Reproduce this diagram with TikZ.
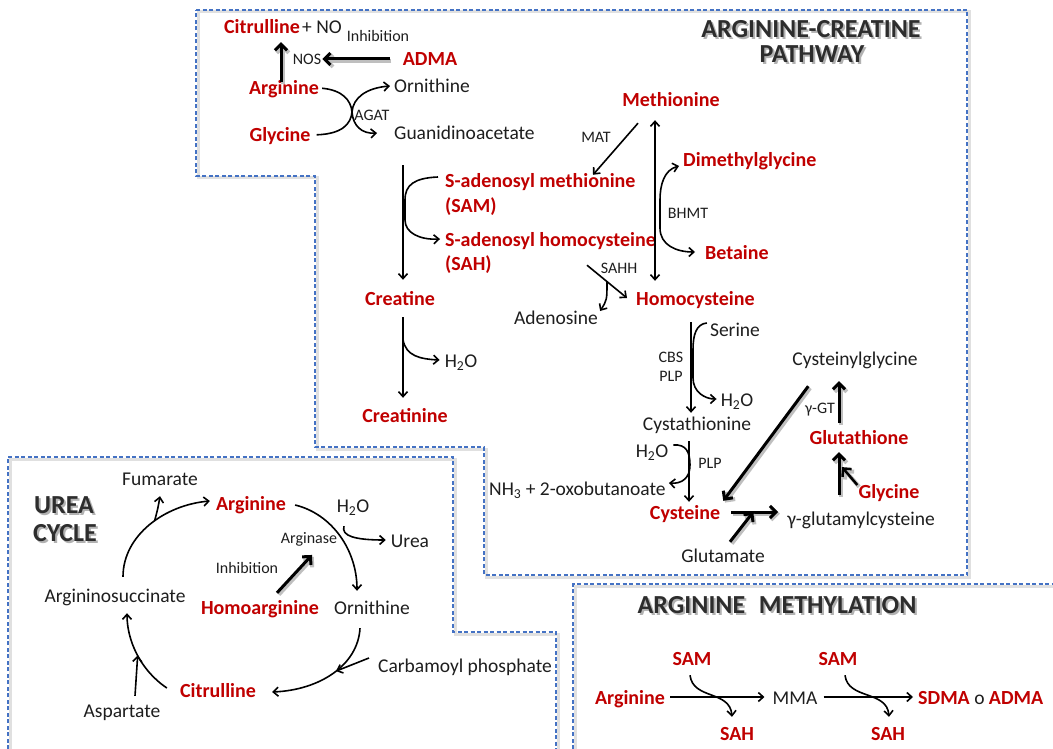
\documentclass[tikz,border=0pt]{standalone}
\usepackage{fontspec}
\setmainfont{Carlito}
\usetikzlibrary{arrows.meta}
\definecolor{dred}{RGB}{192,0,0}
\definecolor{txt}{RGB}{30,30,30}
\definecolor{bxblue}{RGB}{68,114,196}
\definecolor{hdgray}{RGB}{45,45,45}
\tikzset{
  lbl/.style={font=\fontsize{19.5}{22}\selectfont, text=txt, inner sep=0pt, text height=14pt, text depth=0pt},
  rlbl/.style={font=\bfseries\fontsize{20}{23}\selectfont, text=dred, inner sep=0pt, text height=14pt, text depth=0pt},
  sml/.style={font=\fontsize{16}{18}\selectfont, text=txt, inner sep=0pt, text height=11.5pt, text depth=0pt},
  hd/.style={font=\bfseries\fontsize{26}{30}\selectfont, text=hdgray, inner sep=0pt, text height=16.5pt, text depth=0pt},
  hdsh/.style={font=\bfseries\fontsize{26}{30}\selectfont, text=black!30, inner sep=0pt, text height=16.5pt, text depth=0pt},
  arr/.style={-{Straight Barb[length=5pt,width=9pt]}, line width=1.6pt, draw=black},
  dbl/.style={{Straight Barb[length=5pt,width=9pt]}-{Straight Barb[length=5pt,width=9pt]}, line width=1.6pt, draw=black},
  thk/.style={-{Straight Barb[length=6pt,width=12pt]}, line width=3pt, draw=black,
    preaction={draw=black!25, line width=4pt, transform canvas={shift={(1.8pt,-1.8pt)}}}},
  bx/.style={draw=bxblue, line width=1.2pt, dash pattern=on 4pt off 2.5pt},
  bxsh/.style={draw=black!12, line width=3pt, transform canvas={shift={(2pt,-2pt)}}},
}
\begin{document}
\begin{tikzpicture}[x=1pt,y=-1pt]
\useasboundingbox[fill=white] (0,0) rectangle (1053,749);

% ---------- boxes ----------
\draw[bxsh] (196,10) -- (967,10) -- (967,575) -- (484,575) -- (484,447) -- (315,447) -- (315,176) -- (196,176) -- cycle;
\draw[bx] (196,10) -- (967,10) -- (967,575) -- (484,575) -- (484,447) -- (315,447) -- (315,176) -- (196,176) -- cycle;
\draw[bxsh] (8,749) -- (8,457) -- (453,457) -- (453,632) -- (556,632) -- (556,749);
\draw[bx] (8,749) -- (8,457) -- (453,457) -- (453,632) -- (556,632) -- (556,749);
\draw[bxsh] (573,749) -- (573,584) -- (1053,584);
\draw[bx] (573,749) -- (573,584) -- (1053,584);

% ---------- headings ----------
\node[hdsh] at (813,31) {ARGININE-CREATINE};
\node[hd] (hdA) at (811,29) {ARGININE-CREATINE};
\node[hdsh] at (814,56) {PATHWAY};
\node[hd] (hdB) at (812,54) {PATHWAY};
\node[hdsh] at (66,507) {UREA};
\node[hd] (hdC) at (64,505) {UREA};
\node[hdsh] at (67,535) {CYCLE};
\node[hd] (hdD) at (65,533) {CYCLE};
\node[hdsh] at (779,607) {ARGININE\hspace{0.3em} METHYLATION};
\node[hd] (hdE) at (777,605) {ARGININE\hspace{0.3em} METHYLATION};

% ---------- top-left ----------
\node[rlbl] (citr) at (262,27) {Citrulline};
\node[lbl,anchor=west] (no) at (302,27) {+ NO};
\node[sml] (inh1) at (378,36) {Inhibition};
\node[sml] (nos) at (307,59) {NOS};
\node[rlbl] (adma) at (430,59) {ADMA};
\node[rlbl] (arg1) at (284,88) {Arginine};
\node[rlbl] (gly1) at (280,135) {Glycine};
\node[lbl] (orn1) at (432,86) {Ornithine};
\node[lbl,anchor=west] (guan) at (394,133) {Guanidinoacetate};
\node[sml] (agat) at (372,115) {AGAT};

\draw[thk] ([xshift=-3pt,yshift=-1pt]arg1.north) -- ([xshift=19pt,yshift=-8pt]citr.south);
\draw[thk, shorten <=13pt, shorten >=1pt] (adma.west) -- (nos.east);
\draw[arr, shorten <=3pt] (arg1.east) .. controls (342,90) and (351,100) .. (352,112)
      .. controls (353,126) and (362,134) .. ([xshift=-17pt]guan.west);
\draw[arr, shorten <=6pt] (gly1.east) .. controls (342,134) and (351,124) .. (352,112)
      .. controls (353,98) and (366,88) .. ([xshift=-4pt]orn1.west);

% ---------- creatine branch ----------
\node[rlbl,anchor=west] (sam) at (445,181) {S-adenosyl methionine};
\node[rlbl,anchor=west] (samab) at (445,205) {(SAM)};
\node[rlbl,anchor=west] (sah) at (445,239) {S-adenosyl homocysteine};
\node[rlbl,anchor=west] (sahab) at (445,263) {(SAH)};
\node[rlbl] (crea) at (400,298) {Creatine};
\node[rlbl] (crtn) at (405,415) {Creatinine};
\node[lbl] (h2o1) at (461,360) {H\textsubscript{2}O};

\draw[arr] ([xshift=9pt,yshift=-25pt]guan.south west) -- ([xshift=3pt,yshift=11pt]crea.north);
\draw[arr] ([xshift=-7pt,yshift=4pt]sam.west) .. controls (414,178) and (405,185) .. (405,200)
      -- (405,220) .. controls (405,233) and (420,240) .. ([xshift=-5pt]sah.west);
\draw[arr] ([xshift=3pt,yshift=-12pt]crea.south) -- ([xshift=-2pt,yshift=10pt]crtn.north) coordinate[pos=0.28] (cb);
\draw[arr] (cb) .. controls (406,356) and (420,359) .. ([xshift=-5pt]h2o1.west);

% ---------- methionine cycle ----------
\node[rlbl] (meth) at (671,100) {Methionine};
\node[sml] (mat) at (596,137) {MAT};
\node[rlbl,anchor=west] (dmg) at (683,160) {Dimethylglycine};
\node[sml] (bhmt) at (688,213) {BHMT};
\node[rlbl,anchor=west] (bet) at (705,252) {Betaine};
\node[sml] (sahh) at (619,268) {SAHH};
\node[rlbl,anchor=west] (hcy) at (636,298) {Homocysteine};
\node[lbl] (aden) at (556,317) {Adenosine};

\draw[arr] ([xshift=-33pt,yshift=-16pt]meth.south) -- ([xshift=148pt,yshift=-1pt]sam.north west);
\draw[dbl] ([xshift=-16pt,yshift=-13pt]meth.south) -- ([xshift=19pt,yshift=10pt]hcy.north west);
\draw[dbl] ([xshift=-4pt,yshift=-6pt]dmg.west) .. controls (664,170) and (660,185) .. (660,200)
      -- (660,228) .. controls (660,245) and (676,252) .. ([xshift=-10pt]bet.west);
\draw[arr] ([xshift=142pt,yshift=-19pt]sah.south west) -- ([xshift=-9pt]hcy.west) coordinate[pos=0.5] (sm);
\draw[arr] (sm) .. controls (607,300) .. ([xshift=2pt,yshift=6pt]aden.east);

% ---------- transsulfuration ----------
\node[lbl] (serine) at (735,329) {Serine};
\node[sml] (cbs) at (671,357) {CBS};
\node[sml] (plp1) at (671,376) {PLP};
\node[lbl] (h2o2) at (737,399) {H\textsubscript{2}O};
\node[lbl] (cysta) at (697,423) {Cystathionine};
\node[lbl] (h2o3) at (652,450) {H\textsubscript{2}O};
\node[sml] (plp2) at (710,463) {PLP};
\node[lbl,anchor=west] (nh3) at (489,488) {NH\textsubscript{3} + 2-oxobutanoate};
\node[rlbl] (cys) at (685,512) {Cysteine};
\node[lbl] (glm) at (723,555) {Glutamate};
\node[lbl] (ggc) at (861,518) {γ-glutamylcysteine};
\node[rlbl] (gly2) at (889,491) {Glycine};
\node[rlbl] (glut) at (859,437) {Glutathione};
\node[sml] (ggt) at (820,408) {γ-GT};
\node[lbl] (cyg) at (855,358) {Cysteinylglycine};

\draw[arr] ([xshift=55pt,yshift=-17pt]hcy.south west) -- ([xshift=-6pt,yshift=3pt]cysta.north);
\draw[arr] ([xshift=-3pt,yshift=6pt]serine.west) .. controls (696,324) and (693,335) .. (693,350)
      -- (693,378) .. controls (693,392) and (705,399) .. ([xshift=-4pt]h2o2.west);
\draw[arr] ([xshift=-8pt,yshift=-11pt]cysta.south) -- ([xshift=4pt,yshift=3pt]cys.north);
\draw[arr] ([xshift=5pt,yshift=5pt]h2o3.east) .. controls (686,444) and (690,452) .. (690,465)
      .. controls (690,478) and (682,484) .. ([xshift=3pt,yshift=5pt]nh3.east);
\draw[thk] ([xshift=16pt,yshift=-21pt]cyg.south west) -- ([xshift=3pt,yshift=4pt]cys.north east);
\draw[thk] ([xshift=-20pt,yshift=7pt]glut.north) -- ([xshift=-16pt,yshift=-16pt]cyg.south);
\draw[thk] ([xshift=-22pt,yshift=16pt]ggc.north) -- ([xshift=-20pt,yshift=-8pt]glut.south) coordinate[pos=0.65] (gm);
\draw[thk, line width=2.5pt] ([xshift=-1pt,yshift=6pt]gly2.west) -- ([xshift=3pt]gm);
\draw[thk] ([xshift=11pt]cys.east) -- ([xshift=-9pt,yshift=6pt]ggc.west) coordinate[pos=0.47] (cm);
\draw[thk] ([xshift=7pt,yshift=6pt]glm.north) -- (cm);

% ---------- urea cycle ----------
\node[lbl] (fum) at (160,478) {Fumarate};
\node[rlbl] (arg2) at (251,503) {Arginine};
\node[lbl] (asuc) at (115,595) {Argininosuccinate};
\node[sml] (inh2) at (247,568) {Inhibition};
\node[rlbl] (harg) at (260,607) {Homoarginine};
\node[lbl] (orn2) at (372,607) {Ornithine};
\node[lbl] (h2o4) at (353,505) {H\textsubscript{2}O};
\node[lbl] (urea) at (410,540) {Urea};
\node[sml] (argase) at (309,538) {Arginase};
\node[lbl] (carb) at (465,665) {Carbamoyl phosphate};
\node[rlbl] (cit2) at (218,690) {Citrulline};
\node[lbl] (asp) at (122,710) {Aspartate};

\draw[arr] ([xshift=8pt,yshift=11pt]asuc.north) .. controls (123,535) and (165,505) .. ([xshift=-6pt,yshift=2pt]arg2.west) coordinate[pos=0.55] (fa);
\draw[arr] (fa) .. controls (158,508) .. ([yshift=-11pt]fum.south);
\draw[arr] ([xshift=9pt,yshift=-2pt]arg2.east) .. controls (332,514) and (357,550) .. ([xshift=-15pt,yshift=9pt]orn2.north);
\draw[arr] ([xshift=-9pt,yshift=-14pt]h2o4.south) .. controls (341,536) and (355,540) .. ([xshift=-5pt]urea.west);
\draw[thk] ([xshift=17pt,yshift=7pt]harg.north) -- ([xshift=3pt,yshift=-11pt]argase.south);
\draw[arr] ([xshift=-12pt,yshift=-14pt]orn2.south) .. controls (358,665) and (320,690) .. ([xshift=16pt,yshift=-2pt]cit2.east) coordinate[pos=0.47] (ca);
\draw[arr] ([xshift=-9pt,yshift=7pt]carb.west) -- (ca);
\draw[arr] ([xshift=-13pt,yshift=2pt]cit2.west) .. controls (140,670) and (127,640) .. ([xshift=12pt,yshift=-11pt]asuc.south) coordinate[pos=0.48] (da);
\draw[arr] ([xshift=13pt,yshift=7pt]asp.north) -- (da);

% ---------- methylation ----------
\node[rlbl] (arg3) at (630,697) {Arginine};
\node[lbl] (mma) at (795,697) {MMA};
\node[lbl,anchor=west] (sdma) at (918,697) {\textcolor{dred}{\bfseries\fontsize{20}{23}\selectfont SDMA} o \textcolor{dred}{\bfseries\fontsize{20}{23}\selectfont ADMA}};
\node[rlbl] (sam2) at (692,658) {SAM};
\node[rlbl] (sah2) at (737,733) {SAH};
\node[rlbl] (sam3) at (838,658) {SAM};
\node[rlbl] (sah3) at (888,733) {SAH};

\draw[arr, shorten <=5pt, shorten >=8pt] (arg3.east) -- (mma.west);
\draw[arr, shorten <=6pt, shorten >=5pt] (mma.east) -- (sdma.west);
\draw[arr] ([xshift=-2pt,yshift=-10pt]sam2.south) .. controls (693,700) and (730,690) .. ([xshift=-5pt,yshift=9pt]sah2.north);
\draw[arr] ([xshift=7pt,yshift=-10pt]sam3.south) .. controls (848,700) and (887,690) .. ([xshift=1pt,yshift=9pt]sah3.north);
\end{tikzpicture}
\end{document}
